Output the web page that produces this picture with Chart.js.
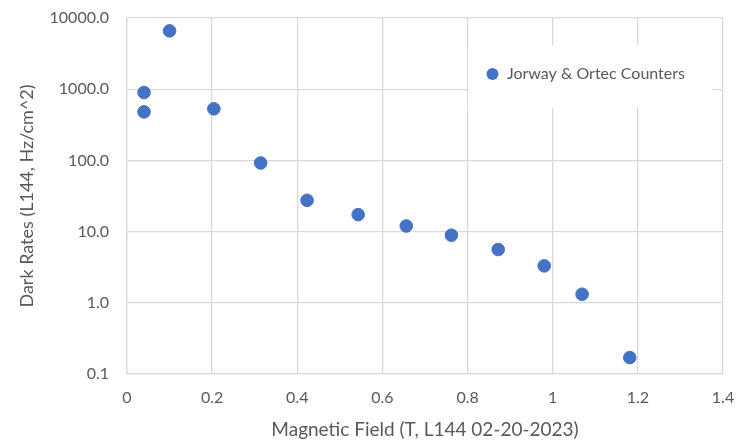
<!DOCTYPE html>
<html>
<head>
<meta charset="utf-8">
<script src="https://cdn.jsdelivr.net/npm/chart.js@4/dist/chart.umd.min.js"></script>
<style>
  html, body { margin: 0; padding: 0; background: #fff; }
  #wrap { width: 739px; height: 441px; }
</style>
</head>
<body>
<div id="wrap"><canvas id="darkChart"></canvas></div>
<script>
// magnetic field (T) and dark rate (Hz/cm^2)
var fieldT = [0.04, 0.04, 0.10, 0.204, 0.314, 0.423, 0.543, 0.656, 0.762, 0.872, 0.980, 1.069, 1.181];
var darkRates = [900, 480, 6600, 530, 92, 27.5, 17.3, 12.0, 8.9, 5.6, 3.3, 1.32, 0.17];
var yTicks = [0.1, 1, 10, 100, 1000, 10000];
var seriesName = 'Jorway & Ortec Counters';

var gray = '#595959';
var gridGray = '#d9d9d9';
var dotBlue = '#4472c4';
var fontFam = 'Lato, "Open Sans", sans-serif';

var points = fieldT.map(function (x, i) { return { x: x, y: darkRates[i] }; });

// legend box sitting inside the plot, upper right
var boxLegend = {
    id: 'boxLegend',
    beforeDatasetsDraw: function (chart) {
        var ctx = chart.ctx;
        var a = chart.chartArea;
        var x0 = a.right - 255, y0 = a.top + 27;
        ctx.save();
        ctx.fillStyle = '#fff';
        ctx.fillRect(x0, y0, 244, 63);
        ctx.fillStyle = dotBlue;
        ctx.beginPath();
        ctx.arc(x0 + 24.5, y0 + 29, 6, 0, Math.PI * 2);
        ctx.fill();
        ctx.fillStyle = gray;
        ctx.font = '16px ' + fontFam;
        ctx.textBaseline = 'middle';
        ctx.fillText(chart.data.datasets[0].label, x0 + 39, y0 + 29);
        ctx.restore();
    }
};

// drop the label overflow padding so layout.padding decides the edges
function noPad(scale) {
    scale.paddingTop = 0;
    scale.paddingBottom = 0;
    scale.paddingLeft = 0;
    scale.paddingRight = 0;
}

var ctx = document.getElementById('darkChart').getContext('2d');
var darkChart = new Chart(ctx, {
    type: 'scatter',
    data: {
        datasets: [{
            label: seriesName,
            data: points,
            backgroundColor: dotBlue,
            borderColor: dotBlue,
            pointRadius: 6.3,
            pointHoverRadius: 6.3
        }]
    },
    options: {
        responsive: true,
        maintainAspectRatio: false,
        animation: false,
        layout: { padding: { top: 18, right: 16, bottom: 0, left: 0 } },
        plugins: {
            legend: { display: false },
            tooltip: { enabled: false }
        },
        scales: {
            x: {
                type: 'linear',
                min: 0,
                max: 1.4,
                ticks: {
                    stepSize: 0.2,
                    color: gray,
                    font: { family: fontFam, size: 16 },
                    padding: 14,
                    callback: function (v) { return String(Number(v.toFixed(1))); }
                },
                grid: { color: gridGray, lineWidth: 1.3, drawTicks: false },
                border: { color: gridGray, width: 1.3 },
                title: {
                    display: true,
                    text: 'Magnetic Field (T, L144 02-20-2023)',
                    color: gray,
                    font: { family: fontFam, size: 19 },
                    padding: { top: 4, bottom: 0 }
                },
                afterFit: function (scale) { scale.height = 67; noPad(scale); }
            },
            y: {
                type: 'logarithmic',
                min: 0.1,
                max: 10000,
                afterBuildTicks: function (scale) {
                    scale.ticks = yTicks.map(function (v) { return { value: v }; });
                },
                ticks: {
                    color: gray,
                    font: { family: fontFam, size: 16 },
                    padding: 18,
                    autoSkip: false,
                    callback: function (v) { return Number(v).toFixed(1); }
                },
                grid: { color: gridGray, lineWidth: 1.3, drawTicks: false },
                border: { color: gridGray, width: 1.3 },
                title: {
                    display: true,
                    text: 'Dark Rates (L144, Hz/cm^2)',
                    color: gray,
                    font: { family: fontFam, size: 18 },
                    padding: { top: 16, bottom: 0 }
                },
                afterFit: function (scale) { scale.width = 127; noPad(scale); }
            }
        }
    },
    plugins: [boxLegend]
});
</script>
</body>
</html>
